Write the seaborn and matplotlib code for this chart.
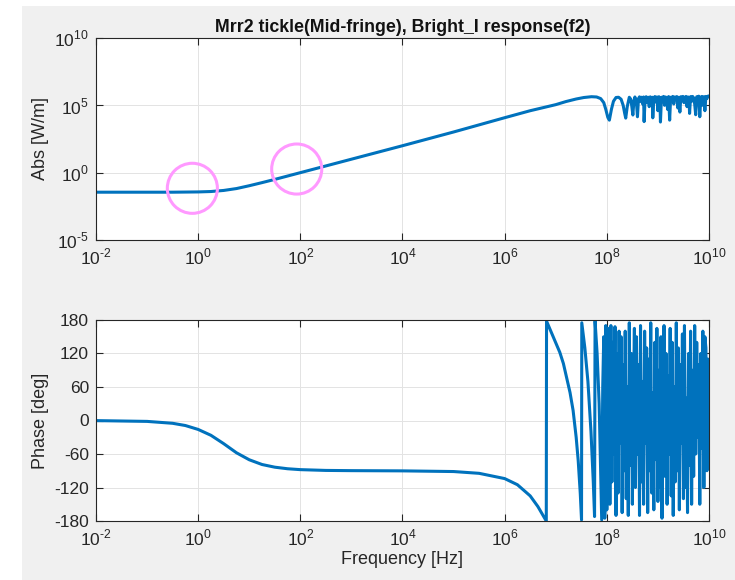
import numpy as np
import seaborn as sns
import matplotlib.pyplot as plt
from matplotlib.patches import Rectangle

# magnitude response (log10 frequency, log10 |H|)
mag_logf = [-2.0, -1.0, -0.5, 0.0, 0.25, 0.5, 0.75, 1.0, 1.25, 1.5, 1.75, 2.0,
            2.5, 3.0, 4.0, 5.0, 6.0, 6.5, 7.0, 7.2, 7.4, 7.55, 7.7, 7.8, 7.88,
            7.94, 7.98, 8.02, 8.05, 8.09, 8.13, 8.18, 8.23, 8.28, 8.32, 8.35,
            8.37, 8.40, 8.44, 8.47, 8.49, 8.51, 8.53, 8.55, 8.58, 8.60, 8.62,
            8.64, 8.66, 8.68, 8.70, 8.72, 8.73, 8.75, 8.77, 8.79, 8.81, 8.83,
            8.85, 8.87, 8.89, 8.90, 8.92, 8.94, 8.96, 8.98, 9.00, 9.02, 9.04,
            9.05, 9.07, 9.09, 9.11, 9.13, 9.15, 9.17, 9.19, 9.21, 9.23, 9.25,
            9.27, 9.29, 9.31, 9.33, 9.35, 9.37, 9.39, 9.41, 9.43, 9.45, 9.47,
            9.49, 9.51, 9.53, 9.55, 9.57, 9.59, 9.61, 9.62, 9.64, 9.66, 9.68,
            9.70, 9.72, 9.74, 9.76, 9.78, 9.80, 9.82, 9.84, 9.86, 9.88, 9.90,
            9.92, 9.94, 9.96, 9.98, 10.0]
mag_log = [-1.45, -1.45, -1.45, -1.43, -1.40, -1.32, -1.18, -0.97, -0.74, -0.50,
           -0.25, 0.0, 0.5, 1.0, 2.0, 3.02, 4.08, 4.6, 5.05, 5.28, 5.47, 5.58,
           5.64, 5.62, 5.5, 5.2, 4.7, 4.1, 3.9, 4.7, 5.3, 5.58, 5.6, 5.45, 5.0,
           4.4, 4.05, 4.9, 5.6, 5.45, 4.9, 4.28, 5.3, 5.62, 5.2, 4.15, 5.5,
           5.63, 5.3, 5.6, 5.1, 5.62, 3.79, 5.55, 5.64, 5.2, 5.6, 4.9, 5.63,
           5.4, 5.6, 4.07, 5.5, 5.65, 5.25, 5.62, 4.6, 5.64, 5.3, 3.76, 5.6,
           5.45, 5.66, 5.0, 5.62, 5.55, 4.7, 5.65, 3.9, 5.6, 5.4, 5.66, 5.1,
           5.62, 5.5, 5.65, 4.8, 5.6, 4.5, 5.64, 5.35, 5.66, 5.2, 5.6, 5.66,
           4.9, 5.62, 5.5, 4.4, 5.65, 5.3, 5.66, 5.55, 5.1, 4.3, 5.64, 5.45,
           5.68, 4.15, 5.6, 5.66, 5.0, 5.64, 4.6, 5.66, 5.5, 5.68,
           5.7]

# phase response (log10 frequency, degrees)
ph_logf = [-2.0, -1.0, -0.5, -0.25, 0.0, 0.25, 0.5, 0.75, 1.0, 1.25, 1.5, 1.75,
           2.0, 2.5, 3.0, 4.0, 5.0, 5.5, 6.0, 6.25, 6.5, 6.65, 6.75, 6.815,
           6.82, 6.88, 6.95, 7.02, 7.08, 7.15, 7.21, 7.28, 7.34, 7.40, 7.44,
           7.48, 7.505, 7.51, 7.57, 7.63, 7.69, 7.735, 7.76, 7.77, 7.81, 7.85,
           7.88, 7.90, 7.92, 7.94, 7.96, 7.98, 8.00, 8.02, 8.04, 8.06, 8.08,
           8.10, 8.12, 8.14, 8.16, 8.18, 8.20, 8.22, 8.24, 8.26, 8.28, 8.30,
           8.32, 8.34, 8.36, 8.38, 8.40, 8.42, 8.44, 8.46, 8.48, 8.50, 8.52,
           8.54, 8.56, 8.58, 8.60, 8.62, 8.64, 8.66, 8.68, 8.70, 8.72, 8.74,
           8.76, 8.78, 8.80, 8.82, 8.84, 8.86, 8.88, 8.90, 8.92, 8.94, 8.96,
           8.98, 9.00, 9.02, 9.04, 9.06, 9.08, 9.10, 9.12, 9.14, 9.16, 9.18,
           9.20, 9.22, 9.24, 9.26, 9.28, 9.30, 9.32, 9.34, 9.36, 9.38, 9.40,
           9.42, 9.44, 9.46, 9.48, 9.50, 9.52, 9.54, 9.56, 9.58, 9.60, 9.62,
           9.64, 9.66, 9.68, 9.70, 9.72, 9.74, 9.76, 9.78, 9.80, 9.82, 9.84,
           9.86, 9.88, 9.90, 9.92, 9.94, 9.96, 9.98, 10.0]
ph_deg = [-0.2, -1.6, -5.0, -9.0, -16.0, -26.5, -41.5, -57.8, -70.3, -78.8,
          -83.6, -86.4, -88.0, -89.4, -89.8, -90.2, -91.4, -94.6, -104.0,
          -115.0, -135.0, -154.0, -170.0, -180.0, 178.0, 165.0, 150.0, 135.0,
          122.0, 102.0, 78.0, 50.0, 18.0, -30.0, -72.0, -130.0, -178.0, 175.0,
          130.0, 70.0, -20.0, -110.0, -172.0, 178.0, 120.0, 30.0, -90.0,
          -178.0, 60.0, 150.0, -175.0, 170.0, -160.0, -20.0, 165.0, -150.0,
          170.0, -110.0, 140.0, -60.0, 168.0, -170.0, 120.0, -130.0, 160.0,
          -40.0, 150.0, -165.0, 100.0, -90.0, 160.0, -140.0, 60.0, -170.0,
          175.0, -80.0, 120.0, -150.0, 30.0, 165.0, -120.0, 150.0, -60.0,
          100.0, -170.0, 170.0, -110.0, 70.0, -150.0, 160.0, -40.0, 130.0,
          -165.0, 110.0, -90.0, 175.0, -130.0, 50.0, -160.0, 140.0, -70.0,
          165.0, -145.0, 90.0, -120.0, 150.0, -175.0, 20.0, 170.0, -100.0,
          120.0, -150.0, 80.0, -60.0, 165.0, -135.0, 140.0, -170.0, 60.0,
          -110.0, 175.0, -90.0, 130.0, -160.0, 100.0, -40.0, 155.0, -140.0,
          170.0, -120.0, 40.0, -165.0, 120.0, -80.0, 160.0, -150.0, 90.0,
          -100.0, 170.0, -60.0, 140.0, -30.0, 100.0, -150.0, 120.0, -50.0,
          160.0, -120.0, 150.0, 130.0, -90.0, 110.0, -85.0]

# highlighted spots on the magnitude curve (frequency, |H|)
mark_f = [0.77, 85.0]
mark_abs = [0.069, 1.86]

# tick decades
x_exp = [-2, 0, 2, 4, 6, 8, 10]
y_exp = [-5, 0, 5, 10]
ph_ticks = [-180, -120, -60, 0, 60, 120, 180]

title = 'Mrr2 tickle(Mid-fringe), Bright_I response(f2)'
line_blue = '#0072BD'
pink = '#FF99FF'

sns.set_style('whitegrid')
plt.rcParams['font.family'] = ['Liberation Sans', 'DejaVu Sans']
plt.rcParams['mathtext.fontset'] = 'custom'
plt.rcParams['mathtext.rm'] = 'Liberation Sans'
plt.rcParams['axes.unicode_minus'] = False


def dec_label(e):
    # MATLAB prints a plain hyphen in the exponent
    if e < 0:
        return r'$10^{\text{-}%d}$' % (-e)
    return r'$10^{%d}$' % e


n1 = min(len(mag_logf), len(mag_log))
n2 = min(len(ph_logf), len(ph_deg))
mag_f = 10.0 ** np.array(mag_logf[:n1])
mag_v = 10.0 ** np.array(mag_log[:n1])
ph_f = 10.0 ** np.array(ph_logf[:n2])
ph_v = np.array(ph_deg[:n2])

fig = plt.figure(figsize=(7.35, 5.8), dpi=100, facecolor='white')
fig.patches.append(Rectangle((22 / 735, 0), 1, 1 - 6 / 580, transform=fig.transFigure,
                             facecolor='#f0f0f0', edgecolor='none', zorder=-10))
ax1 = fig.add_axes([0.1306, 0.5862, 0.834, 0.3483])
ax2 = fig.add_axes([0.1306, 0.1017, 0.834, 0.3466])

sns.lineplot(x=mag_f, y=mag_v, ax=ax1, color=line_blue, lw=2.2, sort=False, estimator=None)
ax1.scatter(mark_f, mark_abs, s=1300, facecolors='none', edgecolors=pink, linewidths=2.2, zorder=5)
sns.lineplot(x=ph_f, y=ph_v, ax=ax2, color=line_blue, lw=2.2, sort=False, estimator=None)

for ax in (ax1, ax2):
    ax.set_xscale('log')
    ax.set_xlim(1e-2, 1e10)
    ax.set_xticks([10.0 ** e for e in x_exp])
    ax.set_xticklabels([dec_label(e) for e in x_exp])
    ax.minorticks_off()
    ax.set_facecolor('white')
    ax.grid(True, color='#e3e3e3', lw=0.7)
    ax.tick_params(direction='in', length=5, width=0.8, color='#262626',
                   labelsize=12.5, labelcolor='#262626', top=True, right=True,
                   bottom=True, left=True, pad=5)
    for s in ax.spines.values():
        s.set_color('#262626')
        s.set_linewidth(0.8)

ax1.set_yscale('log')
ax1.set_ylim(1e-5, 1e10)
ax1.set_yticks([10.0 ** e for e in y_exp])
ax1.set_yticklabels([dec_label(e) for e in y_exp])
ax1.minorticks_off()
ax1.set_ylabel('Abs [W/m]', fontsize=13, color='#262626')
ax1.set_title(title, fontsize=12.8, fontweight='bold', color='#111111', pad=4)

ax2.set_ylim(-180, 180)
ax2.set_yticks(ph_ticks)
ax2.set_ylabel('Phase [deg]', fontsize=13, color='#262626')
ax2.set_xlabel('Frequency [Hz]', fontsize=13, color='#262626', labelpad=2)

fig.savefig('out.png', dpi=100, facecolor=fig.get_facecolor())
